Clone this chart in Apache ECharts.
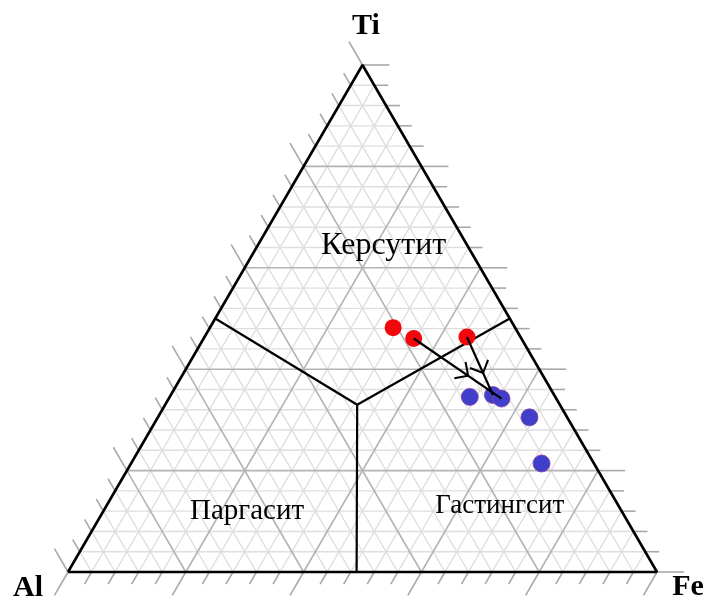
<!DOCTYPE html>
<html>
<head>
<meta charset="utf-8">
<script src="https://cdn.jsdelivr.net/npm/echarts@6/dist/echarts.min.js"></script>
<style>
html, body { margin: 0; padding: 0; background: #fff; }
#chart { width: 710px; height: 602px; }
</style>
</head>
<body>
<div id="chart"></div>
<script>
// составы в %: Al, Fe, Ti
const cornerNames = ['Al', 'Fe', 'Ti'];
const gridStep = 4;
const majorStep = 20;

// красные точки
const redAl = [20.7, 18.3, 9.1];
const redFe = [31.1, 35.7, 44.6];
const redTi = [48.2, 46.1, 46.4];

// синие точки
const blueAl = [14.5, 10.4, 9.3, 6.4, 8.9];
const blueFe = [50.9, 54.7, 56.5, 63.1, 69.7];
const blueTi = [34.5, 34.9, 34.2, 30.5, 21.4];

// стрелки: номер красной точки -> номер синей
const arrowFrom = [1, 2];
const arrowTo = [2, 1];

// границы полей: узел (0) и три конца
const borderAl = [34.4, 50, 0, 51];
const borderFe = [32.6, 0, 50, 49];
const borderTi = [33.0, 50, 50, 0];

// подписи полей
const fieldNames = ['Керсутит', 'Паргасит', 'Гастингсит'];
const fieldAl = [14.2, 63.6, 20.2];
const fieldFe = [21.4, 24.4, 66.8];
const fieldTi = [64.5, 12.0, 13.0];
const fieldFont = [32, 29, 27];

// перевод тройной точки в декартовы оси
function xy(al, fe, ti) {
  const s = al + fe + ti;
  return [fe / s + ti / (2 * s), ti / s];
}

const cornerXY = [xy(100, 0, 0), xy(0, 100, 0), xy(0, 0, 100)];

// линии сетки
let fineLines = [], majorLines = [];
for (let k = gridStep; k < 100; k += gridStep) {
  const list = k % majorStep === 0 ? majorLines : fineLines;
  const m = k % majorStep === 0 ? 1 : 0;
  list.push([...xy(100 - k, 0, k), ...xy(0, 100 - k, k), m]); // Ti = k
  list.push([...xy(k, 100 - k, 0), ...xy(k, 0, 100 - k), m]); // Al = k
  list.push([...xy(100 - k, k, 0), ...xy(0, k, 100 - k), m]); // Fe = k
}
const gridLines = fineLines.concat(majorLines);

// риски снаружи треугольника
let ticks = [];
for (let k = 0; k <= 100; k += gridStep) {
  const m = k % majorStep === 0 ? 1 : 0;
  ticks.push([...xy(k, 0, 100 - k), 0, m]);   // левая сторона, Al
  ticks.push([...xy(100 - k, k, 0), 1, m]);   // нижняя, Fe
  ticks.push([...xy(0, 100 - k, k), 2, m]);   // правая, Ti
}
// направления рисок: от вершины к вершине
const tickDir = [[1, 2], [2, 0], [0, 1]];

function seg(params, api) {
  const a = api.coord([api.value(0), api.value(1)]);
  const b = api.coord([api.value(2), api.value(3)]);
  const major = api.value(4) === 1;
  return {
    type: 'line',
    shape: { x1: a[0], y1: a[1], x2: b[0], y2: b[1] },
    style: { stroke: major ? '#b3b3b3' : '#dedede', lineWidth: major ? 1.6 : 1.4 }
  };
}

function tick(params, api) {
  const p = api.coord([api.value(0), api.value(1)]);
  const d = tickDir[api.value(2)];
  const c0 = api.coord(cornerXY[d[0]]), c1 = api.coord(cornerXY[d[1]]);
  const dx = c1[0] - c0[0], dy = c1[1] - c0[1], L = Math.hypot(dx, dy);
  const len = api.value(3) === 1 ? 27 : 14;
  return {
    type: 'line',
    shape: { x1: p[0], y1: p[1], x2: p[0] + dx / L * len, y2: p[1] + dy / L * len },
    style: { stroke: '#a8a8a8', lineWidth: 1.6 }
  };
}

function border(params, api) {
  const a = api.coord([api.value(0), api.value(1)]);
  const b = api.coord([api.value(2), api.value(3)]);
  return {
    type: 'line',
    shape: { x1: a[0], y1: a[1], x2: b[0], y2: b[1] },
    style: { stroke: '#000', lineWidth: 2.2 }
  };
}

function arrow(params, api) {
  const a = api.coord([api.value(0), api.value(1)]);
  const b = api.coord([api.value(2), api.value(3)]);
  const dx = b[0] - a[0], dy = b[1] - a[1], L = Math.hypot(dx, dy);
  const ux = dx / L, uy = dy / L;
  const m = [a[0] + dx * 0.62, a[1] + dy * 0.62];
  const h = 14, ang = Math.PI / 4;
  const arm = s => {
    const c = Math.cos(s * ang), sn = Math.sin(s * ang);
    return [m[0] + (-ux * c + uy * sn) * h, m[1] + (-ux * sn - uy * c) * h];
  };
  return {
    type: 'group',
    children: [
      { type: 'line', shape: { x1: a[0], y1: a[1], x2: b[0], y2: b[1] }, style: { stroke: '#000', lineWidth: 2.2 } },
      { type: 'polyline', shape: { points: [arm(1), m, arm(-1)] }, style: { stroke: '#000', lineWidth: 2, fill: 'none' } }
    ]
  };
}

const frame = [0, 1, 2, 0].map(i => cornerXY[i]);
const borders = [1, 2, 3].map(i => [
  ...xy(borderAl[0], borderFe[0], borderTi[0]),
  ...xy(borderAl[i], borderFe[i], borderTi[i])
]);
const redPts = redAl.map((v, i) => xy(v, redFe[i], redTi[i]));
const bluePts = blueAl.map((v, i) => xy(v, blueFe[i], blueTi[i]));
const arrows = arrowFrom.map((r, i) => [...redPts[r], ...bluePts[arrowTo[i]]]);
const fields = fieldNames.map((n, i) => ({
  name: n,
  value: xy(fieldAl[i], fieldFe[i], fieldTi[i]),
  label: { fontSize: fieldFont[i] }
}));

const chart = echarts.init(document.getElementById('chart'));
chart.setOption({
  animation: false,
  grid: { left: 68, top: 65, width: 589, height: 507 },
  xAxis: { type: 'value', min: 0, max: 1, show: false },
  yAxis: { type: 'value', min: 0, max: 1, show: false },
  graphic: [
    { type: 'text', x: 366, y: 26, style: { text: cornerNames[2], font: 'bold 30px "Liberation Serif"', fill: '#000', textAlign: 'center', textVerticalAlign: 'middle' } },
    { type: 'text', x: 28, y: 588, style: { text: cornerNames[0], font: 'bold 30px "Liberation Serif"', fill: '#000', textAlign: 'center', textVerticalAlign: 'middle' } },
    { type: 'text', x: 688, y: 587, style: { text: cornerNames[1], font: 'bold 30px "Liberation Serif"', fill: '#000', textAlign: 'center', textVerticalAlign: 'middle' } }
  ],
  series: [
    { type: 'custom', name: 'сетка', data: gridLines, renderItem: seg, clip: false, silent: true, z: 1 },
    { type: 'custom', name: 'риски', data: ticks, renderItem: tick, clip: false, silent: true, z: 1 },
    {
      type: 'line', name: 'треугольник', data: frame, symbol: 'none', clip: false, silent: true, z: 3,
      lineStyle: { color: '#000', width: 2.6 }
    },
    { type: 'custom', name: 'границы', data: borders, renderItem: border, clip: false, silent: true, z: 3 },
    {
      type: 'scatter', name: 'поля', data: fields, symbolSize: 0, silent: true, z: 4,
      itemStyle: { opacity: 1 },
      label: { show: true, position: 'inside', formatter: '{b}', color: '#000', fontFamily: 'Liberation Serif' }
    },
    { type: 'scatter', name: 'красные', data: redPts, symbolSize: 17, itemStyle: { color: '#f2080c', opacity: 1 }, z: 5 },
    {
      type: 'scatter', name: 'синие', data: bluePts, symbolSize: 17, z: 5,
      itemStyle: { color: '#3f3fcc', borderColor: '#8a3ea6', borderWidth: 0.8, opacity: 1 }
    },
    { type: 'custom', name: 'стрелки', data: arrows, renderItem: arrow, clip: false, silent: true, z: 6 }
  ]
});
</script>
</body>
</html>
